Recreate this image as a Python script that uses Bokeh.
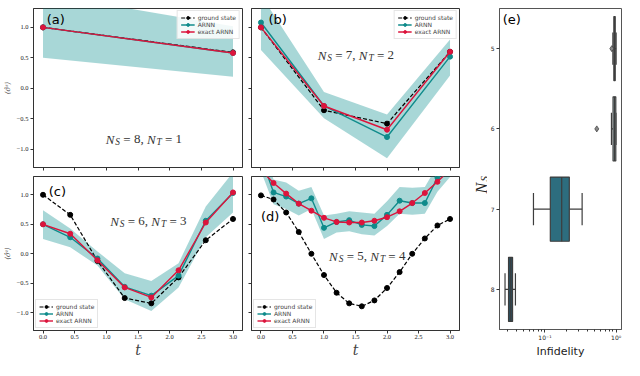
import numpy as np
from bokeh.plotting import figure
from bokeh.models import (ColumnDataSource, Label, Legend, LegendItem, FixedTicker,
                          CustomJSTickFormatter, FactorRange, Range1d)
from bokeh.layouts import row, column
from bokeh.embed import file_html
from bokeh.resources import INLINE

# ---------------- data ----------------
# panel (a): N_S = 8, N_T = 1
t_a = [0.0, 3.0]
ground_a = [1.0, 0.59]
arnn_a = [1.0, 0.58]
exact_a = [1.0, 0.58]
band_lo_a = [0.50, 0.19]
band_hi_a = [1.55, 1.02]

# panel (b): N_S = 7, N_T = 2
t_b = [0.0, 1.0, 2.0, 3.0]
ground_b = [1.0, -0.36, -0.58, 0.60]
arnn_b = [1.08, -0.29, -0.80, 0.52]
exact_b = [1.0, -0.29, -0.68, 0.60]
band_lo_b = [0.63, -0.49, -1.15, 0.21]
band_hi_b = [1.53, -0.06, -0.43, 0.80]

# panel (c): N_S = 6, N_T = 3
t_c = [0.0, 0.43, 0.86, 1.29, 1.71, 2.14, 2.57, 3.0]
ground_c = [1.0, 0.66, -0.12, -0.75, -0.84, -0.40, 0.23, 0.59]
arnn_c = [0.50, 0.28, -0.08, -0.56, -0.71, -0.37, 0.56, 1.03]
exact_c = [0.50, 0.34, -0.11, -0.57, -0.74, -0.28, 0.53, 1.04]
band_lo_c = [0.25, 0.11, -0.20, -0.77, -0.97, -0.57, 0.28, 0.70]
band_hi_c = [0.74, 0.43, 0.04, -0.33, -0.46, -0.16, 0.80, 1.38]

# panel (d): N_S = 5, N_T = 4
t_d = [0.0, 0.2, 0.4, 0.6, 0.8, 1.0, 1.2, 1.4, 1.6, 1.8, 2.0, 2.2, 2.4, 2.6, 2.8, 3.0]
ground_d = [0.99, 0.92, 0.70, 0.37, 0.0, -0.36, -0.66, -0.84, -0.89, -0.79, -0.58, -0.31, 0.0, 0.26, 0.48, 0.59]
arnn_d = [1.65, 1.04, 0.97, 0.85, 0.94, 0.44, 0.54, 0.57, 0.49, 0.47, 0.66, 0.90, 0.86, 0.86, 1.29, 1.55]
exact_d = [1.42, 1.20, 1.02, 0.85, 0.73, 0.61, 0.54, 0.53, 0.53, 0.56, 0.62, 0.72, 0.86, 1.03, 1.22, 1.43]
band_lo_d = [1.40, 0.84, 0.76, 0.65, 0.76, 0.25, 0.36, 0.38, 0.33, 0.31, 0.47, 0.68, 0.66, 0.68, 1.05, 1.30]
band_hi_d = [1.90, 1.26, 1.21, 1.07, 1.13, 0.65, 0.68, 0.72, 0.70, 0.68, 0.89, 1.13, 1.12, 1.13, 1.50, 1.80]

panel_ns = [8, 7, 6, 5]
panel_nt = [1, 2, 3, 4]
panel_letters = ["(a)", "(b)", "(c)", "(d)"]
legend_labels = ["ground state", "ARNN", "exact ARNN"]

y_ticks = [-1.0, -0.5, 0.0, 0.5, 1.0]
x_ticks = [0.0, 0.5, 1.0, 1.5, 2.0, 2.5, 3.0]

# panel (e): infidelity box plot
ns_labels = ["5", "6", "7", "8"]
whisker_lo = [0.90, 0.86, 0.069, 0.0275]
q1 = [0.93, 0.905, 0.119, 0.0308]
median = [0.95, 0.95, 0.172, 0.0331]
q3 = [0.97, 0.99, 0.220, 0.0351]
whisker_hi = [1.0, 0.995, 0.333, 0.0385]
outlier_ns = ["5", "6"]
outlier_val = [0.87, 0.535]
box_colors = ["#2f3b3c", "#a4bfc1", "#2d6d7e", "#2d4f5e"]
e_major_ticks = [0.1, 1.0]

TEAL = "#0f8b8b"
CRIMSON = "#dc143c"
BAND = "#008b8b"
AXC = "#333333"

fmt_num = "return (tick < 0 ? '\\u2212' : '') + Math.abs(tick).toFixed(1);"
fmt_blank = "return '';"

# approximate em widths (Times-like metrics) for composing math text
EM = {"N": 0.667, "S": 0.5, "T": 0.556, "=": 0.564, ",": 0.25, " ": 0.25}


def tw(s, size):
    return sum(EM.get(c, 0.5) for c in s) * size


def math_label(p, x, y, ns, nt, size=13):
    sub = size * 0.72
    parts = [("N", "i", size), ("S", "s", sub), (" ", None, size), ("=", "r", size),
             (" ", None, size), (f"{ns},", "r", size), (" ", None, size),
             ("N", "i", size), ("T", "s", sub), (" ", None, size), ("=", "r", size),
             (" ", None, size), (f"{nt}", "r", size)]
    off = 0.0
    for text, kind, s in parts:
        if kind is not None:
            p.add_layout(Label(x=x, y=y, x_offset=off, y_offset=(-3 if kind == "s" else 0),
                               text=text, text_font="Liberation Serif",
                               text_font_style=("italic" if kind in ("i", "s") else "normal"),
                               text_font_size=f"{s:.1f}px", text_color="#333333",
                               text_baseline="alphabetic", text_align="left"))
        off += tw(text, s) + (1.0 if kind == "i" else 0.0)


def style_axis(ax):
    ax.axis_line_color = AXC
    ax.major_tick_line_color = AXC
    ax.major_tick_out = 3
    ax.major_tick_in = 0
    ax.minor_tick_line_color = None
    ax.major_label_text_font = "Liberation Serif"
    ax.major_label_text_font_size = "6.5px"
    ax.major_label_text_color = "#222222"


def make_panel(idx, t, ground, arnn, exact, lo, hi, *, width, height, mb, show_y, show_x,
               legend_loc, letter_pos, math_pos):
    p = figure(width=width, height=height, output_backend="svg", toolbar_location=None,
               x_range=Range1d(-0.15, 3.15), y_range=Range1d(-1.3, 1.31),
               min_border_left=mb[0], min_border_right=mb[1],
               min_border_top=mb[2], min_border_bottom=mb[3])
    p.grid.visible = False
    p.outline_line_color = AXC
    p.background_fill_color = "white"
    p.border_fill_color = "white"
    src = ColumnDataSource(dict(t=t, g=ground, a=arnn, e=exact, lo=lo, hi=hi))
    p.varea(x="t", y1="lo", y2="hi", source=src, fill_color=BAND, fill_alpha=0.34)
    gl = p.line("t", "g", source=src, line_color="black", line_dash="4 2", line_width=1.2)
    gs = p.scatter("t", "g", source=src, size=5, color="black")
    al = p.line("t", "a", source=src, line_color=TEAL, line_width=1.4)
    a_s = p.scatter("t", "a", source=src, size=5, color=TEAL)
    el = p.line("t", "e", source=src, line_color=CRIMSON, line_width=1.4)
    e_s = p.scatter("t", "e", source=src, size=5, color=CRIMSON)

    legend = Legend(items=[LegendItem(label=legend_labels[0], renderers=[gl, gs]),
                           LegendItem(label=legend_labels[1], renderers=[al, a_s]),
                           LegendItem(label=legend_labels[2], renderers=[el, e_s])],
                    location=legend_loc, margin=2, padding=3, spacing=0,
                    glyph_width=14, glyph_height=7, label_height=7, label_standoff=3,
                    label_text_font="DejaVu Sans", label_text_font_size="6px",
                    border_line_color="#cccccc", background_fill_alpha=0.85)
    p.add_layout(legend)

    style_axis(p.xaxis[0])
    style_axis(p.yaxis[0])
    p.xaxis.ticker = FixedTicker(ticks=x_ticks)
    p.yaxis.ticker = FixedTicker(ticks=y_ticks)
    if show_y:
        p.yaxis.formatter = CustomJSTickFormatter(code=fmt_num)
        p.yaxis.major_label_standoff = 2
        p.yaxis.axis_label = "⟨σ̂ᶻ⟩"
        p.yaxis.axis_label_text_font = "DejaVu Serif"
        p.yaxis.axis_label_text_font_size = "7px"
        p.yaxis.axis_label_standoff = 2
    else:
        p.yaxis.formatter = CustomJSTickFormatter(code=fmt_blank)
        p.yaxis.major_label_text_font_size = "1px"
        p.yaxis.major_label_standoff = 0
    if show_x:
        p.xaxis.formatter = CustomJSTickFormatter(code=fmt_num)
        p.xaxis.major_label_standoff = 1
        p.xaxis.axis_label = "t"
        p.xaxis.axis_label_text_font = "DejaVu Serif"
        p.xaxis.axis_label_text_font_style = "italic"
        p.xaxis.axis_label_text_font_size = "14px"
        p.xaxis.axis_label_standoff = 0
    else:
        p.xaxis.formatter = CustomJSTickFormatter(code=fmt_blank)
        p.xaxis.major_label_text_font_size = "1px"
        p.xaxis.major_label_standoff = 0

    p.add_layout(Label(x=letter_pos[0], y=letter_pos[1], text=panel_letters[idx],
                       text_font="DejaVu Sans", text_font_size="13px", text_color="black",
                       text_baseline="top", text_align="left"))
    math_label(p, math_pos[0], math_pos[1], panel_ns[idx], panel_nt[idx])
    return p


W1, W2, WS, W3 = 245, 218, 24, 137
H1, H2 = 172, 188
XS = 8 + W1 + W2  # left page position of the label strip

pa = make_panel(0, t_a, ground_a, arnn_a, exact_a, band_lo_a, band_hi_a,
                width=W1, height=H1, mb=(28, 3, 8, 5), show_y=True, show_x=False,
                legend_loc="top_right", letter_pos=(0.06, 1.25), math_pos=(0.99, -0.84))
pb = make_panel(1, t_b, ground_b, arnn_b, exact_b, band_lo_b, band_hi_b,
                width=W2, height=H1, mb=(6, 4, 8, 5), show_y=False, show_x=False,
                legend_loc="top_right", letter_pos=(0.12, 1.25), math_pos=(0.90, 0.54))
pc = make_panel(2, t_c, ground_c, arnn_c, exact_c, band_lo_c, band_hi_c,
                width=W1, height=H2, mb=(28, 3, 4, 0), show_y=True, show_x=True,
                legend_loc="bottom_left", letter_pos=(0.09, 1.19), math_pos=(1.06, 0.55))
pd_ = make_panel(3, t_d, ground_d, arnn_d, exact_d, band_lo_d, band_hi_d,
                 width=W2, height=H2, mb=(6, 4, 4, 0), show_y=False, show_x=True,
                 legend_loc="bottom_left", letter_pos=(0.0, 0.76), math_pos=(1.08, -0.04))

# ---------------- y label of panel (e), drawn in a narrow strip ----------------
ps = figure(width=WS, height=H1 + H2, output_backend="svg", toolbar_location=None,
            x_axis_location=None, y_axis_location=None,
            x_range=Range1d(XS, XS + WS), y_range=Range1d(8 + H1 + H2, 8),
            min_border_left=0, min_border_right=0, min_border_top=0, min_border_bottom=0)
if "frame_align" in ps.properties():
    ps.frame_align = False
ps.title = None
ps.grid.visible = False
ps.outline_line_color = None
ps.add_layout(Label(x=489.0, y=201, text="N", angle=np.pi / 2,
                    text_font="Liberation Serif", text_font_style="italic", text_font_size="16px",
                    text_align="left", text_baseline="alphabetic", text_color="#222222"))
ps.add_layout(Label(x=491.5, y=189, text="S", angle=np.pi / 2,
                    text_font="Liberation Serif", text_font_style="italic", text_font_size="11px",
                    text_align="left", text_baseline="alphabetic", text_color="#222222"))

# ---------------- panel (e) ----------------
pe = figure(width=W3, height=H1 + H2, output_backend="svg", toolbar_location=None,
            x_axis_type="log", x_range=Range1d(0.023, 1.19),
            y_range=FactorRange(factors=list(reversed(ns_labels))),
            min_border_left=9, min_border_right=3, min_border_top=8, min_border_bottom=0)
pe.grid.visible = False
pe.outline_line_color = "#555555"
esrc = ColumnDataSource(dict(
    ns=ns_labels, lo=whisker_lo, q1=q1, med=median, q3=q3, hi=whisker_hi, color=box_colors,
    cap0=[(n, -0.2) for n in ns_labels], cap1=[(n, 0.2) for n in ns_labels],
    m0=[(n, -0.4) for n in ns_labels], m1=[(n, 0.4) for n in ns_labels]))
EDGE = "#3d3d3d"
pe.segment(x0="lo", y0="ns", x1="q1", y1="ns", source=esrc, line_color=EDGE, line_width=1.2)
pe.segment(x0="q3", y0="ns", x1="hi", y1="ns", source=esrc, line_color=EDGE, line_width=1.2)
pe.segment(x0="lo", y0="cap0", x1="lo", y1="cap1", source=esrc, line_color=EDGE, line_width=1.2)
pe.segment(x0="hi", y0="cap0", x1="hi", y1="cap1", source=esrc, line_color=EDGE, line_width=1.2)
pe.hbar(y="ns", left="q1", right="q3", height=0.8, source=esrc, fill_color="color",
        line_color=EDGE, line_width=1.2)
pe.segment(x0="med", y0="m0", x1="med", y1="m1", source=esrc, line_color=EDGE, line_width=1.2)
pe.scatter(x=outlier_val, y=outlier_ns, marker="diamond", size=6, fill_color="#8a8a8a",
           line_color="#333333", line_width=0.7)

minor = [k * 10.0 ** e for e in (-2, -1) for k in range(2, 10)]
pe.xaxis.ticker = FixedTicker(ticks=e_major_ticks, minor_ticks=minor)
pe.xaxis.formatter = CustomJSTickFormatter(code="""
const e = Math.round(Math.log10(tick));
const sup = {'-': '\\u207b', '0': '\\u2070', '1': '\\u00b9', '2': '\\u00b2', '3': '\\u00b3'};
return '10' + String(e).split('').map(c => sup[c]).join('');
""")
for ax in (pe.xaxis[0], pe.yaxis[0]):
    ax.axis_line_color = "#555555"
    ax.major_tick_line_color = AXC
    ax.major_tick_out = 3
    ax.major_tick_in = 0
    ax.major_label_text_font = "DejaVu Sans"
    ax.major_label_text_color = "#222222"
pe.xaxis.minor_tick_line_color = AXC
pe.xaxis.minor_tick_out = 2
pe.xaxis.minor_tick_in = 0
pe.xaxis.major_label_text_font_size = "6px"
pe.xaxis.major_label_standoff = 1
pe.yaxis.major_label_text_font_size = "6px"
pe.yaxis.major_label_standoff = 2
pe.xaxis.axis_label = "Infidelity"
pe.xaxis.axis_label_text_font = "DejaVu Sans"
pe.xaxis.axis_label_text_font_style = "normal"
pe.xaxis.axis_label_text_font_size = "11px"
pe.xaxis.axis_label_text_color = "#222222"
pe.xaxis.axis_label_standoff = 1

pe.add_layout(Label(x=0.0255, y=3.96, text="(e)", text_font="DejaVu Sans", text_font_size="13px",
                    text_color="black", text_baseline="top", text_align="left"))

layout = row(column(row(pa, pb), row(pc, pd_)), ps, pe)
open("out.html", "w").write(file_html(layout, INLINE))
